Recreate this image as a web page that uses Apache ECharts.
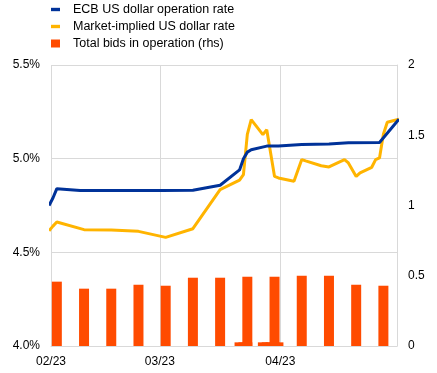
<!DOCTYPE html>
<html><head><meta charset="utf-8">
<script src="https://cdn.jsdelivr.net/npm/echarts@6/dist/echarts.min.js"></script>
<style>html,body{margin:0;padding:0;background:#fff}#c{width:437px;height:373px}</style>
</head><body><div id="c"></div>
<script>
const ecbDates = ['2023-01-31','2023-02-01','2023-02-02','2023-02-08','2023-02-15','2023-02-22','2023-03-01','2023-03-09','2023-03-16','2023-03-21','2023-03-22','2023-03-23','2023-03-24','2023-03-28','2023-03-31','2023-04-06','2023-04-13','2023-04-18','2023-04-26','2023-05-01'];
const ecbRates = [4.75,4.79,4.84,4.83,4.83,4.83,4.83,4.831,4.858,4.94,5.0,5.035,5.048,5.067,5.068,5.075,5.078,5.085,5.086,5.21];

const mktDates = ['2023-01-31','2023-02-01','2023-02-02','2023-02-09','2023-02-16','2023-02-23','2023-03-02','2023-03-09','2023-03-16','2023-03-21','2023-03-22','2023-03-23','2023-03-24','2023-03-27','2023-03-28','2023-03-30','2023-03-31','2023-04-04','2023-04-06','2023-04-07','2023-04-11','2023-04-13','2023-04-17','2023-04-18','2023-04-20','2023-04-21','2023-04-24','2023-04-25','2023-04-26','2023-04-27','2023-04-28','2023-04-30','2023-05-01'];
const mktRates = [4.615,4.64,4.662,4.621,4.619,4.612,4.58,4.626,4.835,4.885,4.915,5.13,5.208,5.128,5.155,4.905,4.897,4.879,4.995,4.988,4.962,4.956,4.995,4.977,4.905,4.924,4.954,4.995,5.004,5.13,5.194,5.205,5.21];

const weeklyBidDates = ['2023-02-02','2023-02-09','2023-02-16','2023-02-23','2023-03-02','2023-03-09','2023-03-16','2023-03-23','2023-03-30','2023-04-06','2023-04-13','2023-04-20','2023-04-27'];
const weeklyBids = [0.458,0.408,0.408,0.436,0.429,0.486,0.486,0.493,0.493,0.500,0.500,0.436,0.429];

const dailyBidDates = ['2023-03-21','2023-03-22','2023-03-23','2023-03-27','2023-03-28','2023-03-29','2023-03-30','2023-03-31'];
const dailyBids = [0.026,0.026,0.026,0.026,0.026,0.026,0.026,0.026];

const monthTicks = ['2023-02-01','2023-03-01','2023-04-01'];
const monthLabels = ['02/23','03/23','04/23'];
const axisStart = '2023-02-01';
const axisEnd = '2023-05-01';

const seriesNames = ['ECB US dollar operation rate','Market-implied US dollar rate','Total bids in operation (rhs)'];

// day offset from axisStart (UTC, no timezone issues)
const utc = s => { const p = s.split('-').map(Number); return Date.UTC(p[0], p[1] - 1, p[2]); };
const dayOf = s => (utc(s) - utc(axisStart)) / 86400000;
const midDay = (dates, vals) => dates.map((d, i) => [dayOf(d) + 0.5, vals[i]]);
const tickNums = monthTicks.map(dayOf);

const FONT = '"Liberation Sans", Arial, sans-serif';
const chart = echarts.init(document.getElementById('c'), null, {renderer: 'canvas'});
chart.setOption({
  animation: false,
  backgroundColor: '#fff',
  textStyle: {fontFamily: FONT},
  legend: {
    orient: 'vertical', left: 51, top: 3, padding: 0, itemWidth: 9, itemHeight: 8, itemGap: 4,
    textStyle: {fontSize: 12.5, color: '#000', fontFamily: FONT, padding: [0, 0, 0, 8]},
    data: [
      {name: seriesNames[0], icon: 'path://M0,0H8V3H0Z'},
      {name: seriesNames[1], icon: 'path://M0,0H8V3H0Z'},
      {name: seriesNames[2], icon: 'rect'}
    ]
  },
  grid: {left: 51, right: 40, top: 65, bottom: 27, containLabel: false},
  xAxis: {
    type: 'value', min: 0, max: dayOf(axisEnd),
    axisLine: {show: true, lineStyle: {color: '#d9d9d9', width: 1}},
    axisTick: {show: false, customValues: tickNums.concat([dayOf(axisEnd)])},
    splitLine: {show: true, lineStyle: {color: '#d9d9d9', width: 1}},
    axisLabel: {
      customValues: tickNums, margin: 10, fontSize: 12, color: '#000', fontFamily: FONT,
      formatter: v => { const i = tickNums.indexOf(v); return i >= 0 ? monthLabels[i] : ''; }
    }
  },
  yAxis: [
    {
      type: 'value', position: 'left', min: 4.0, max: 5.5, interval: 0.5,
      axisLine: {show: false}, axisTick: {show: false},
      splitLine: {show: true, lineStyle: {color: '#d9d9d9', width: 1}},
      axisLabel: {margin: 11, fontSize: 12, color: '#000', fontFamily: FONT, formatter: v => v.toFixed(1) + '%'}
    },
    {
      type: 'value', position: 'right', min: 0, max: 2, interval: 0.5,
      axisLine: {show: true, lineStyle: {color: '#d9d9d9', width: 1}}, axisTick: {show: false},
      splitLine: {show: false},
      axisLabel: {margin: 11, fontSize: 12, color: '#000', fontFamily: FONT}
    }
  ],
  series: [
    {
      name: seriesNames[2], type: 'bar', yAxisIndex: 1, barWidth: 10, barGap: '-100%', z: 1,
      itemStyle: {color: '#FF4B00'}, data: midDay(dailyBidDates, dailyBids)
    },
    {
      name: seriesNames[2], type: 'bar', yAxisIndex: 1, barWidth: 10, barGap: '-100%', z: 1,
      itemStyle: {color: '#FF4B00'}, data: midDay(weeklyBidDates, weeklyBids)
    },
    {
      name: seriesNames[0], type: 'line', yAxisIndex: 0, showSymbol: false, symbol: 'none', z: 3,
      lineStyle: {color: '#003299', width: 3}, itemStyle: {color: '#003299'},
      data: midDay(ecbDates, ecbRates)
    },
    {
      name: seriesNames[1], type: 'line', yAxisIndex: 0, showSymbol: false, symbol: 'none', z: 2,
      lineStyle: {color: '#FFB400', width: 3}, itemStyle: {color: '#FFB400'},
      data: midDay(mktDates, mktRates)
    }
  ]
});
</script>
</body></html>
